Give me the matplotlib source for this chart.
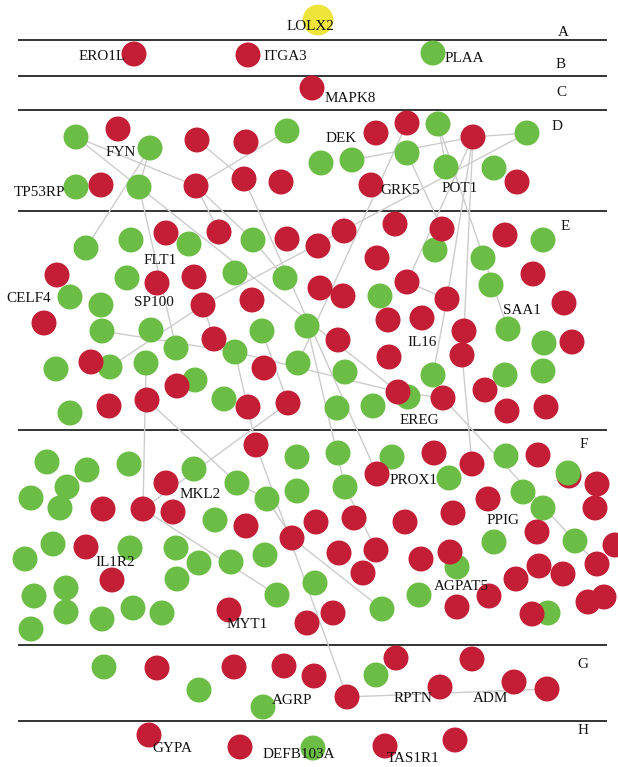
import matplotlib.pyplot as plt

# node colours: r = up-regulated, g = down-regulated, y = seed gene
colors = {"r": "#c41e36", "g": "#6cbd45", "y": "#eee43a"}
node_size = {"r": 324, "g": 324, "y": 490}

# ---------------- NODES (x, y, kind) per layer ---------------- #
layer_a = [(318, 20, "y")]
layer_b = [(134, 54, "r"), (248, 55, "r"), (433, 53, "g")]
layer_c = [(312, 88, "r")]
layer_d = [
    (76, 137, "g"), (150, 148, "g"), (287, 131, "g"), (438, 124, "g"), (527, 133, "g"),
    (321, 163, "g"), (352, 160, "g"), (407, 153, "g"), (446, 167, "g"), (494, 168, "g"),
    (76, 187, "g"), (139, 187, "g"),
    (118, 129, "r"), (197, 140, "r"), (246, 142, "r"), (376, 133, "r"), (407, 123, "r"),
    (473, 137, "r"), (101, 185, "r"), (196, 186, "r"), (244, 179, "r"), (281, 182, "r"),
    (371, 185, "r"), (517, 182, "r"),
]
layer_e = [
    (86, 248, "g"), (131, 240, "g"), (189, 244, "g"), (253, 240, "g"), (543, 240, "g"),
    (435, 250, "g"), (483, 258, "g"), (127, 278, "g"), (235, 273, "g"), (285, 278, "g"),
    (380, 296, "g"), (491, 285, "g"), (70, 297, "g"), (101, 305, "g"), (102, 331, "g"),
    (151, 330, "g"), (176, 348, "g"), (235, 352, "g"), (262, 331, "g"), (307, 326, "g"),
    (508, 329, "g"), (544, 343, "g"), (56, 369, "g"), (110, 367, "g"), (146, 363, "g"),
    (195, 380, "g"), (298, 363, "g"), (345, 372, "g"), (433, 375, "g"), (505, 375, "g"),
    (543, 371, "g"), (224, 399, "g"), (337, 408, "g"), (373, 406, "g"), (408, 397, "g"),
    (70, 413, "g"),
    (166, 233, "r"), (219, 232, "r"), (287, 239, "r"), (318, 246, "r"), (344, 231, "r"),
    (395, 224, "r"), (442, 229, "r"), (505, 235, "r"), (377, 258, "r"), (533, 274, "r"),
    (57, 275, "r"), (157, 283, "r"), (194, 277, "r"), (320, 288, "r"), (343, 296, "r"),
    (407, 282, "r"), (447, 299, "r"), (564, 303, "r"), (203, 305, "r"), (252, 300, "r"),
    (44, 323, "r"), (214, 339, "r"), (338, 340, "r"), (388, 320, "r"), (422, 318, "r"),
    (464, 331, "r"), (572, 342, "r"), (91, 362, "r"), (264, 368, "r"), (389, 357, "r"),
    (462, 355, "r"), (177, 386, "r"), (147, 400, "r"), (109, 406, "r"), (248, 407, "r"),
    (288, 403, "r"), (398, 392, "r"), (443, 398, "r"), (485, 390, "r"), (507, 411, "r"),
    (546, 407, "r"),
]
layer_f = [
    (47, 462, "g"), (87, 470, "g"), (129, 464, "g"), (194, 469, "g"), (297, 457, "g"),
    (338, 453, "g"), (392, 457, "g"), (506, 456, "g"), (67, 487, "g"), (31, 498, "g"),
    (60, 508, "g"), (237, 483, "g"), (267, 499, "g"), (297, 491, "g"), (345, 487, "g"),
    (449, 478, "g"), (523, 492, "g"), (543, 508, "g"), (215, 520, "g"), (53, 544, "g"),
    (130, 548, "g"), (25, 559, "g"), (176, 548, "g"), (199, 563, "g"), (231, 562, "g"),
    (265, 555, "g"), (494, 542, "g"), (575, 541, "g"), (457, 567, "g"), (66, 588, "g"),
    (34, 596, "g"), (177, 579, "g"), (277, 595, "g"), (315, 583, "g"), (419, 595, "g"),
    (66, 612, "g"), (102, 619, "g"), (133, 608, "g"), (162, 613, "g"), (382, 609, "g"),
    (548, 613, "g"), (31, 629, "g"),
    (256, 445, "r"), (434, 453, "r"), (472, 464, "r"), (538, 455, "r"), (569, 476, "r"),
    (597, 484, "r"), (377, 474, "r"), (166, 483, "r"), (488, 499, "r"), (595, 508, "r"),
    (103, 509, "r"), (143, 509, "r"), (173, 512, "r"), (246, 526, "r"), (316, 522, "r"),
    (354, 518, "r"), (405, 522, "r"), (453, 513, "r"), (537, 532, "r"), (615, 545, "r"),
    (292, 538, "r"), (86, 547, "r"), (339, 553, "r"), (376, 550, "r"), (363, 573, "r"),
    (421, 559, "r"), (450, 552, "r"), (516, 579, "r"), (539, 566, "r"), (563, 574, "r"),
    (597, 564, "r"), (112, 580, "r"), (489, 596, "r"), (457, 607, "r"), (229, 610, "r"),
    (333, 613, "r"), (307, 623, "r"), (532, 614, "r"), (588, 602, "r"), (604, 597, "r"),
    (568, 473, "g"),
]
layer_g = [
    (104, 667, "g"), (199, 690, "g"), (263, 707, "g"), (376, 675, "g"),
    (157, 668, "r"), (234, 667, "r"), (284, 666, "r"), (314, 676, "r"), (347, 697, "r"),
    (396, 658, "r"), (440, 687, "r"), (472, 659, "r"), (514, 682, "r"), (547, 689, "r"),
]
layer_h = [(149, 735, "r"), (240, 747, "r"), (313, 748, "g"), (385, 746, "r"), (455, 740, "r")]

# ---------------- INTERACTIONS ---------------- #
edges = [
    ((76, 137), (196, 186)), ((76, 137), (139, 187)), ((150, 148), (139, 187)),
    ((197, 140), (244, 179)), ((196, 186), (287, 131)), ((352, 160), (473, 137)),
    ((473, 137), (527, 133)), ((150, 148), (86, 248)), ((139, 187), (176, 348)),
    ((139, 187), (398, 392)), ((196, 186), (219, 232)), ((196, 186), (253, 240)),
    ((253, 240), (285, 278)), ((407, 123), (298, 363)), ((527, 133), (203, 305)),
    ((203, 305), (110, 367)), ((473, 137), (407, 282)), ((473, 137), (447, 299)),
    ((447, 299), (433, 375)), ((473, 137), (464, 331)), ((438, 124), (446, 167)),
    ((438, 124), (508, 329)), ((407, 153), (442, 229)), ((244, 179), (377, 474)),
    ((407, 282), (447, 299)), ((102, 331), (235, 352)), ((235, 352), (398, 392)),
    ((398, 392), (443, 398)), ((203, 305), (214, 339)), ((235, 352), (256, 445)),
    ((146, 363), (143, 509)), ((147, 400), (237, 483)), ((262, 331), (288, 403)),
    ((307, 326), (345, 487)), ((345, 487), (376, 550)), ((288, 403), (143, 509)),
    ((462, 355), (472, 464)), ((443, 398), (575, 541)), ((237, 483), (267, 499)),
    ((267, 499), (292, 538)), ((292, 538), (382, 609)), ((143, 509), (277, 595)),
    ((256, 445), (347, 697)), ((575, 541), (597, 564)), ((347, 697), (547, 689)),
]

# ---------------- LABELS ---------------- #
gene_labels = [
    ("LOLX2", 310, 27), ("ERO1L", 102, 56), ("ITGA3", 285, 57), ("PLAA", 464, 59),
    ("MAPK8", 350, 98), ("DEK", 341, 139), ("FYN", 121, 152), ("TP53RP", 40, 192),
    ("GRK5", 400, 191), ("POT1", 460, 189), ("FLT1", 160, 260), ("CELF4", 29, 299),
    ("SP100", 154, 302), ("SAA1", 522, 311), ("IL16", 422, 342), ("EREG", 419, 420),
    ("MKL2", 200, 495), ("IL1R2", 115, 563), ("MYT1", 247, 625), ("PROX1", 414, 481),
    ("PPIG", 503, 520), ("AGPAT5", 461, 587), ("AGRP", 292, 701), ("RPTN", 413, 699),
    ("ADM", 491, 699), ("GYPA", 172, 748), ("DEFB103A", 299, 755), ("TAS1R1", 413, 758),
]
layer_names = ["A", "B", "C", "D", "E", "F", "G", "H"]
layer_name_pos = [(563, 33), (561, 65), (561, 93), (557, 127), (565, 227), (584, 444), (583, 664), (583, 731)]
separators = [40, 76, 110, 211, 430, 645, 721]

fig = plt.figure(figsize=(6.18, 7.67), dpi=100)
ax = fig.add_axes([0, 0, 1, 1])
ax.set_xlim(0, 618)
ax.set_ylim(767, 0)
ax.axis("off")

for y in separators:
    ax.plot([19, 606], [y, y], color="#333333", lw=1.4, zorder=0)

for (x1, y1), (x2, y2) in edges:
    ax.plot([x1, x2], [y1, y2], color="#cccccc", lw=1.0, zorder=1)

for layer in [layer_a, layer_b, layer_c, layer_d, layer_e, layer_f, layer_g, layer_h]:
    xs = [n[0] for n in layer]
    ys = [n[1] for n in layer]
    ax.scatter(xs, ys, s=[node_size[n[2]] for n in layer], c=[colors[n[2]] for n in layer],
               edgecolors="none", zorder=2)

for name, x, y in gene_labels:
    ax.text(x, y, name, ha="center", va="center", fontsize=10.9,
            family="Liberation Serif", color="#111111", zorder=3)

for name, (x, y) in zip(layer_names, layer_name_pos):
    ax.text(x, y, name, ha="center", va="center", fontsize=10.9,
            family="Liberation Serif", color="#111111", zorder=3)

fig.savefig("out.png", dpi=100)
